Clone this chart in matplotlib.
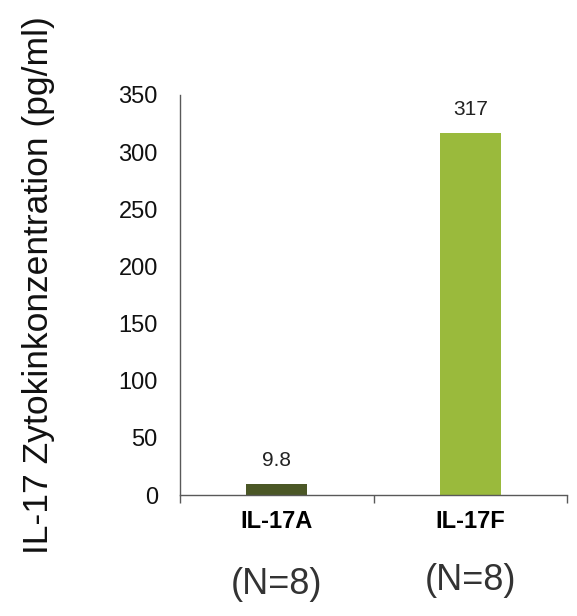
import matplotlib
matplotlib.use("Agg")
import matplotlib.pyplot as plt
import numpy as np

plt.rcParams['font.family'] = ['Liberation Sans', 'DejaVu Sans']

categories = ["IL-17A", "IL-17F"]
values = [9.8, 317]
value_labels = ["9.8", "317"]
n_labels = ["(N=8)", "(N=8)"]
colors = ["#4b5726", "#9aba3c"]
yticks = [0, 50, 100, 150, 200, 250, 300, 350]

fig = plt.figure(figsize=(5.77, 6.16), dpi=100)
ax = fig.add_axes([0.312, 0.1964, 0.671, 0.6494])

x = np.arange(len(categories)) + 0.5
ax.bar(x, values, width=0.315, color=colors)

for xi, v, lab in zip(x, values, value_labels):
    ax.annotate(lab, xy=(xi, v), xytext=(0, 14), textcoords="offset pixels",
                ha="center", va="bottom", fontsize=15, color="#222222")

ax.set_xlim(0, 2)
ax.set_ylim(0, 350)
ax.set_yticks(yticks)
ax.tick_params(axis="y", length=0, labelsize=17, pad=16, labelcolor="#111111")

# category labels sit between tick marks at the category borders
ax.set_xticks([0, 1, 2])
ax.set_xticklabels([])
ax.set_xticks(x, minor=True)
ax.set_xticklabels(categories, minor=True, fontsize=17, fontweight="bold")
ax.tick_params(axis="x", which="major", length=6, color="#595959", width=1)
ax.tick_params(axis="x", which="minor", length=0, pad=11)

for side in ["top", "right"]:
    ax.spines[side].set_visible(False)
for side in ["left", "bottom"]:
    ax.spines[side].set_color("#595959")
    ax.spines[side].set_linewidth(1)

for xi, lab, dy in zip(x, n_labels, [0, 4]):
    ax.annotate(lab, xy=(xi, 0), xycoords=("data", "axes fraction"),
                xytext=(0, -89 + dy), textcoords="offset pixels",
                ha="center", va="center", fontsize=26, color="#333333")

fig.text(0.066, 0.538, "IL-17 Zytokinkonzentration (pg/ml)", rotation=90,
         ha="center", va="center", fontsize=25.5, color="#111111")

fig.savefig("out.png", dpi=100)
